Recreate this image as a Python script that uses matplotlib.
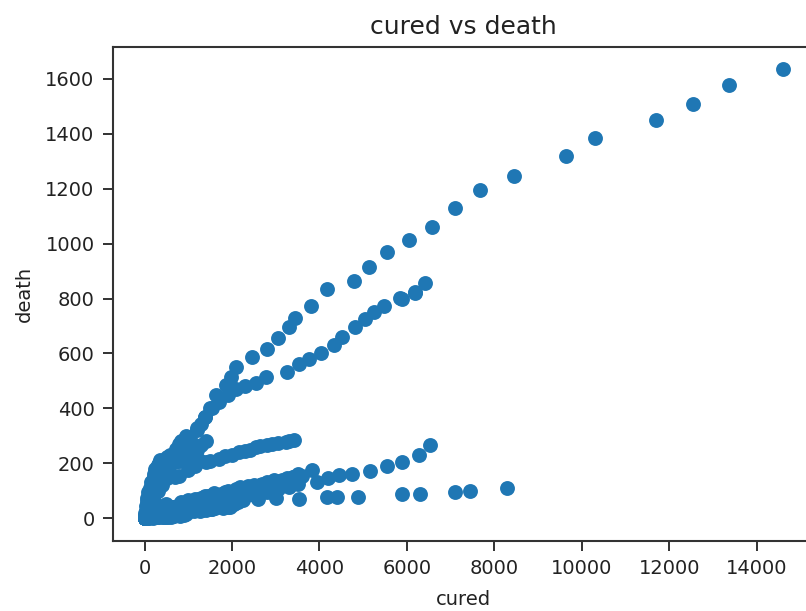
import matplotlib
matplotlib.use("Agg")
import matplotlib.pyplot as plt

# ---- data: (cured, death) trajectories ----
cured_mh = [0, 5, 15, 25, 42, 56, 66, 79, 125, 188, 208, 217, 235, 295, 300, 330, 350, 507, 572, 722,
            789, 840, 957, 1188, 1282, 1388, 1500, 1628, 1858, 1971, 2100, 2450, 2808, 3052, 3303, 3440,
            3797, 4178, 4801, 5130, 5555, 6043, 6575, 7100, 7671, 8447, 9642, 10312, 11705, 12557, 13380, 14600]
death_mh = [2, 5, 8, 20, 45, 64, 72, 97, 110, 127, 149, 160, 178, 187, 194, 201, 211, 223, 232, 251,
            269, 283, 301, 323, 342, 369, 400, 448, 484, 515, 551, 588, 618, 655, 697, 728,
            773, 834, 865, 914, 971, 1013, 1062, 1129, 1195, 1245, 1319, 1385, 1451, 1509, 1576, 1635]

cured_gj = [0, 10, 26, 40, 59, 90, 131, 200, 313, 434, 527, 613, 735, 900, 1042, 1200, 1381, 1550, 1709,
            1900, 2091, 2300, 2541, 2770, 3265, 3532, 3760, 4025, 4331, 4521, 4824, 5052, 5244, 5472,
            5852, 5883, 6187, 6196, 6423]
death_gj = [1, 5, 16, 26, 36, 58, 77, 103, 133, 160, 181, 214, 236, 262, 290, 330, 368, 400, 425,
            449, 472, 480, 493, 515, 533, 563, 578, 600, 630, 661, 697, 724, 752, 773,
            801, 797, 823, 821, 858]

cured_mp = [20, 65, 130, 210, 300, 400, 524, 700, 792, 1000, 1150, 1249, 1400, 1500, 1705, 1850, 2000,
            2162, 2300, 2403, 2541, 2630, 2800, 2922, 3050, 3226, 3300, 3418]
death_mp = [20, 50, 70, 83, 99, 120, 145, 150, 155, 176, 190, 211, 205, 210, 217, 225, 230,
            241, 245, 250, 259, 262, 266, 271, 274, 277, 281, 286]

cured_dl = [0, 6, 14, 25, 32, 72, 164, 290, 500, 808, 900, 1000, 1092, 1256, 1362, 1542, 1630, 1750,
            2020, 2129, 2300, 2512, 2800, 3045, 3314, 3518, 3950, 4202, 4445, 4749, 5167, 5548, 5890,
            6271, 6537]
death_dl = [1, 2, 6, 12, 24, 47, 48, 50, 52, 53, 54, 56, 59, 61, 64, 64, 65, 68,
            73, 73, 82, 86, 95, 106, 115, 123, 131, 148, 156, 162, 172, 192, 204,
            229, 265]

cured_tn = [0, 10, 21, 58, 180, 411, 752, 960, 1128, 1258, 1312, 1409, 1516, 1605, 1824, 1959, 2051,
            2134, 2240, 2599, 3000, 3532, 4178, 4406, 4886, 5890, 6308, 7107, 7443, 8287]
death_tn = [1, 5, 8, 12, 15, 15, 20, 22, 25, 27, 29, 31, 33, 37, 44, 49, 53,
            61, 66, 71, 72, 71, 79, 79, 79, 89, 89, 95, 101, 112]

cured_rj = [0, 21, 93, 164, 269, 500, 669, 836, 1116, 1356, 1596, 1839, 2085, 2176, 2364, 2511, 2677,
            2800, 2964, 3151, 3337, 3500, 3600, 3836]
death_rj = [0, 3, 11, 14, 25, 27, 40, 58, 62, 77, 92, 97, 106, 113, 117, 121, 125,
            131, 138, 141, 143, 147, 154, 174]

cured_up = [0, 50, 150, 300, 450, 600, 750, 900, 1100, 1250, 1387, 1550, 1700, 2000, 2165, 2500, 2700,
            2900, 3100, 3250, 3400, 3500]
death_up = [0, 4, 10, 20, 28, 39, 45, 50, 60, 70, 82, 84, 85, 95, 98, 104, 115,
            118, 128, 140, 150, 160]

cured_wb = [0, 5, 19, 39, 73, 103, 124, 150, 200, 300, 400, 500, 600, 700, 800, 900, 1000, 1100,
            1190, 1300, 1414]
death_wb = [0, 3, 7, 10, 18, 20, 33, 133, 140, 160, 180, 190, 200, 205, 210, 215, 230, 240,
            250, 265, 283]

cured_band = [1000, 1150, 1300, 1450, 1600, 1750, 1900, 2050, 2200, 2350, 2500, 2650, 2800, 2950,
              3100, 3250, 3400, 1200, 1700, 2250, 2750, 3200]
death_band = [65, 70, 75, 80, 85, 90, 98, 100, 108, 110, 115, 120, 124, 128,
              135, 145, 150, 52, 70, 88, 100, 120]

cured_pb = [0, 4, 14, 27, 30, 104, 112, 120, 135, 168, 400, 800, 1257, 1547, 1800, 1913, 1949]
death_pb = [1, 5, 8, 13, 17, 20, 21, 25, 28, 31, 32, 32, 32, 35, 38, 40, 40]

cured_ap = [0, 10, 30, 100, 235, 441, 545, 729, 889, 1000, 1218, 1433, 1660, 1818, 2007]
death_ap = [0, 4, 9, 14, 24, 31, 33, 36, 41, 44, 45, 48, 50, 53, 56]

cured_tg = [0, 35, 100, 190, 367, 530, 637, 822, 950, 1002, 1050, 1200, 1377, 1500]
death_tg = [1, 9, 18, 23, 26, 28, 29, 29, 32, 34, 39, 40, 45, 53]

cured_ka = [0, 12, 34, 80, 181, 251, 349, 451, 530, 600, 654, 694]
death_ka = [1, 3, 9, 16, 18, 21, 24, 26, 31, 37, 40, 42]

cured_small = [0, 0, 0, 0, 0, 1, 2, 3, 5, 8, 10, 15, 20, 30, 50, 60, 100, 100, 200, 200, 300, 300,
               400, 450, 500, 542, 600, 600, 684, 706, 800, 809, 900, 944]
death_small = [0, 1, 2, 3, 4, 0, 0, 1, 0, 2, 1, 0, 0, 1, 1, 2, 2, 3, 2, 5, 3, 4,
               6, 3, 6, 4, 6, 9, 7, 13, 8, 20, 12, 14]

cured_all = (cured_mh + cured_gj + cured_mp + cured_dl + cured_tn + cured_rj + cured_up + cured_wb
             + cured_band + cured_pb + cured_ap + cured_tg + cured_ka + cured_small)
death_all = (death_mh + death_gj + death_mp + death_dl + death_tn + death_rj + death_up + death_wb
             + death_band + death_pb + death_ap + death_tg + death_ka + death_small)

plt.rcParams['font.family'] = ['DejaVu Sans']

fig = plt.figure(figsize=(8.06, 6.11), dpi=100)
ax = fig.add_axes([0.1398, 0.115, 0.871, 0.8086])
ax.scatter(cured_all, death_all, s=115, color='#1f77b4', linewidths=0)

ax.set_title('cured vs death', fontsize=18, pad=9, color='#222222')
ax.set_xlabel('cured', fontsize=14, color='#222222', labelpad=9)
ax.set_ylabel('death', fontsize=14, color='#222222', labelpad=8)
ax.set_xticks([0, 2000, 4000, 6000, 8000, 10000, 12000, 14000])
ax.set_yticks([0, 200, 400, 600, 800, 1000, 1200, 1400, 1600])
ax.tick_params(labelsize=14, length=7, width=1.3, pad=6, colors='#222222')
for sp in ax.spines.values():
    sp.set_linewidth(1.5)
    sp.set_color('#333333')

fig.savefig('out.png', dpi=100)
